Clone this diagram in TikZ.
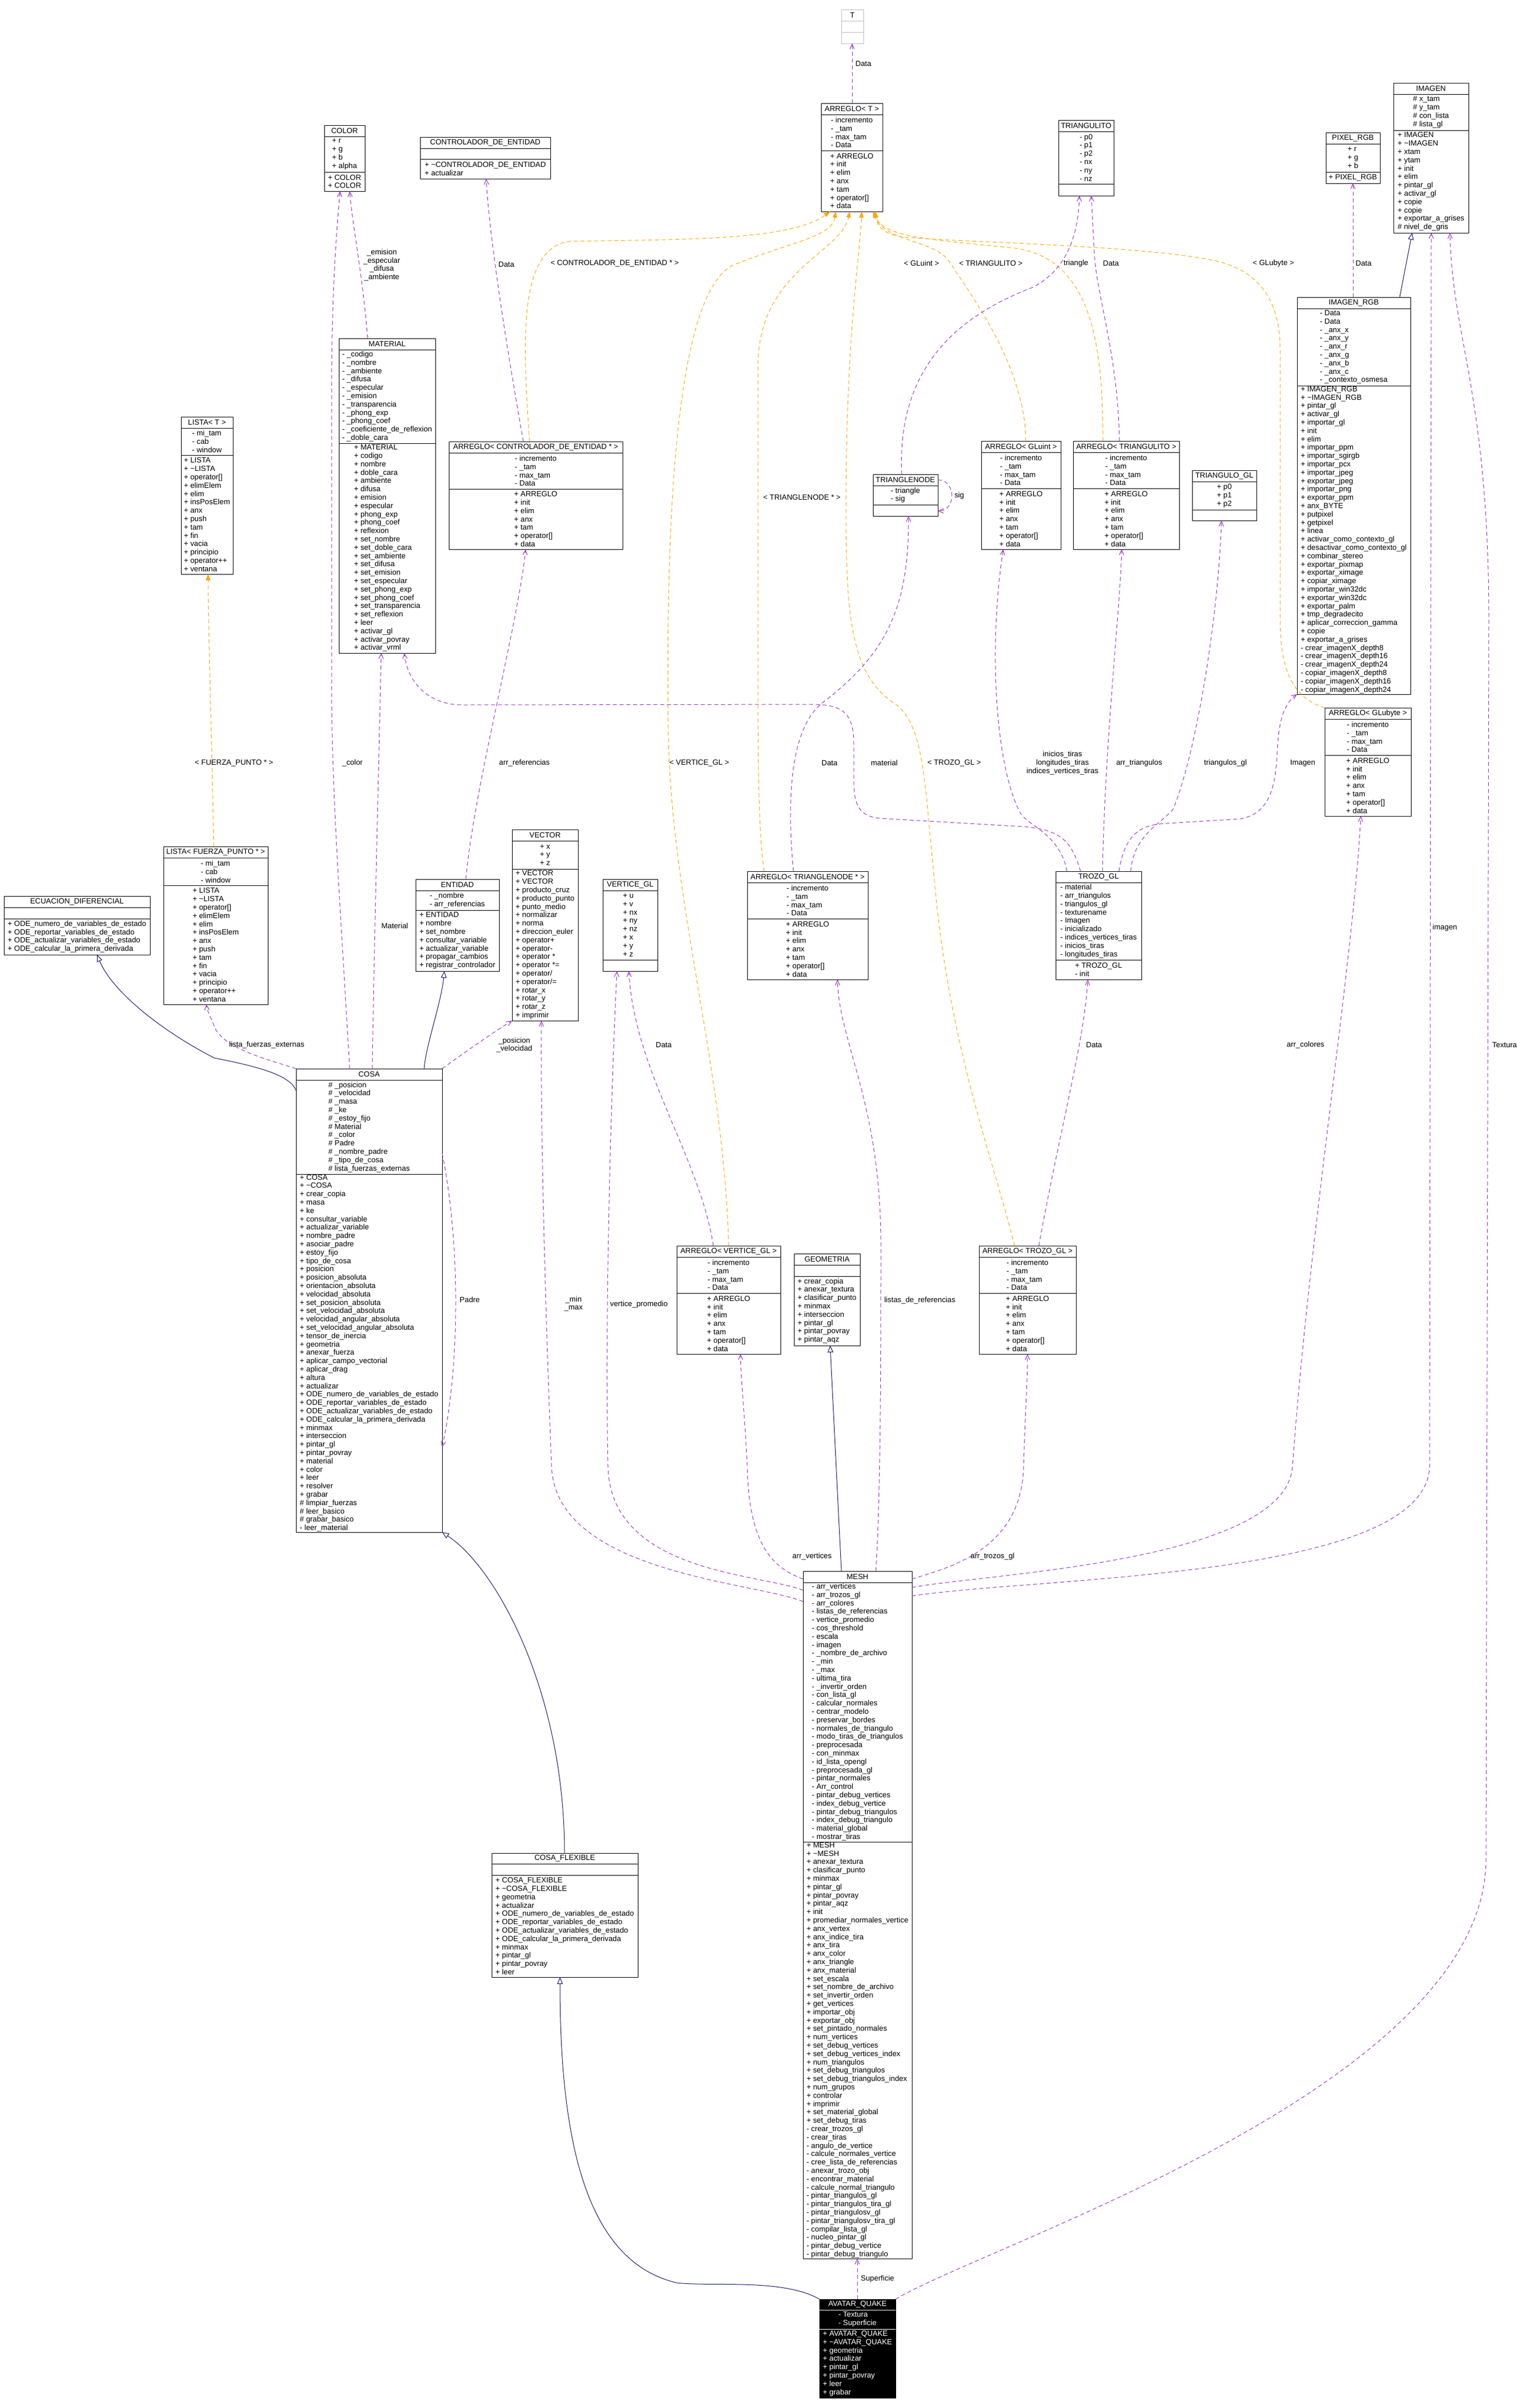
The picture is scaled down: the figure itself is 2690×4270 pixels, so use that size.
\documentclass[tikz,border=0pt]{standalone}
\usepackage{fontspec}
\setmainfont{Liberation Sans}
\usetikzlibrary{arrows.meta}
\definecolor{usec}{HTML}{9A32CD}
\definecolor{inhc}{HTML}{191970}
\definecolor{tmplc}{HTML}{FFA500}
\definecolor{tgray}{HTML}{BFBFBF}
\newcommand\fz{\fontsize{13.33}{14.8}\selectfont}
\newcommand\tld{\textasciitilde}
\newcommand\umlclass[9]{%
  \pgfmathsetmacro\ucx{(#2+#4)/2}%
  \pgfmathsetmacro\ucy{(#3+#5)/2}%
  \pgfmathsetmacro\ucw{#4-#2}%
  \pgfmathsetmacro\uch{#5-#3}%
  \pgfmathsetmacro\uty{(#3+#6)/2}%
  \pgfmathsetmacro\uay{(#6+#7)/2}%
  \pgfmathsetmacro\umy{(#7+#5)/2}%
  \def\uname{#1}%
  \tikzset{curtxt/.style={txt#9}}%
  \node[box#9,minimum width=\ucw pt,minimum height=\uch pt] (#1) at (\ucx,\ucy) {};%
  \node[txt#9,align=center] (#1-title) at (\ucx,\uty) {#8};%
  \draw[div#9] (#2,#6) -- (#4,#6) (#2,#7) -- (#4,#7);%
}
\newcommand\umlA[1]{\node[curtxt] (\uname-attr) at (\ucx,\uay) {#1};}
\newcommand\umlM[1]{\node[curtxt] (\uname-meth) at (\ucx,\umy) {#1};}
\begin{document}
\catcode`\_=12
\newcommand\arrA{- incremento\\- _tam\\- max_tam\\- Data}
\newcommand\arrM{+ ARREGLO\\+ init\\+ elim\\+ anx\\+ tam\\+ operator[]\\+ data}
\newcommand\listA{- mi_tam\\- cab\\- window}
\newcommand\listM{+ LISTA\\+ \tld LISTA\\+ operator[]\\+ elimElem\\+ elim\\+ insPosElem\\+ anx\\+ push\\+ tam\\+ fin\\+ vacia\\+ principio\\+ operator++\\+ ventana}
\begin{tikzpicture}[x=1pt,y=-1pt,
  box/.style={rectangle,draw=black,fill=white,line width=1pt,inner sep=0pt,outer sep=0pt},
  boxn/.style={box}, boxg/.style={box,draw=tgray}, boxd/.style={box,fill=black},
  txt/.style={font=\fz,inner sep=0pt,align=left},
  txtn/.style={txt}, txtg/.style={txt}, txtd/.style={txt,text=white},
  divn/.style={line width=1pt,draw=black}, divg/.style={line width=1pt,draw=tgray}, divd/.style={line width=1pt,draw=white},
  use/.style={draw=usec,line width=1pt,dash pattern=on 7pt off 5pt,-{Straight Barb[length=9pt,width=8pt]}},
  tmpl/.style={draw=tmplc,line width=1pt,dash pattern=on 7pt off 5pt,-{Triangle[length=11pt,width=8pt]}},
  inh/.style={draw=inhc,line width=1pt,-{Triangle[open,length=12pt,width=10pt,fill=white]}},
  lbl/.style={font=\fz,inner sep=0pt,align=center}]
\fill[white] (0,0) rectangle (2690,4270);
\useasboundingbox (0,0) rectangle (2690,4270);

% ---------------- classes ----------------
\umlclass{T}{1492}{17}{1531}{77}{37}{57}{T}{g}
\umlclass{ART}{1456}{183}{1565}{375}{203}{267}{ARREGLO< T >}{n}
\umlA{\arrA}\umlM{\arrM}
\umlclass{TRI}{1877}{213}{1975}{347}{233}{326}{TRIANGULITO}{n}
\umlA{- p0\\- p1\\- p2\\- nx\\- ny\\- nz}
\umlclass{PIX}{2351}{235}{2447}{325}{255}{305}{PIXEL_RGB}{n}
\umlA{+ r\\+ g\\+ b}\umlM{+ PIXEL_RGB}
\umlclass{IMG}{2471}{147}{2604}{413}{167}{231}{IMAGEN}{n}
\umlA{\# x_tam\\\# y_tam\\\# con_lista\\\# lista_gl}
\umlM{+ IMAGEN\\+ \tld IMAGEN\\+ xtam\\+ ytam\\+ init\\+ elim\\+ pintar_gl\\+ activar_gl\\+ copie\\+ copie\\+ exportar_a_grises\\\# nivel_de_gris}
\umlclass{COL}{575}{222}{647}{339}{242}{305}{COLOR}{n}
\umlA{+ r\\+ g\\+ b\\+ alpha}\umlM{+ COLOR\\+ COLOR}
\umlclass{CTL}{745}{243}{976}{317}{263}{282}{CONTROLADOR_DE_ENTIDAD}{n}
\umlM{+ \tld CONTROLADOR_DE_ENTIDAD\\+ actualizar}
\umlclass{MAT}{601}{600}{772}{1158}{620}{786}{MATERIAL}{n}
\umlA{- _codigo\\- _nombre\\- _ambiente\\- _difusa\\- _especular\\- _emision\\- _transparencia\\- _phong_exp\\- _phong_coef\\- _coeficiente_de_reflexion\\- _doble_cara}
\umlM{+ MATERIAL\\+ codigo\\+ nombre\\+ doble_cara\\+ ambiente\\+ difusa\\+ emision\\+ especular\\+ phong_exp\\+ phong_coef\\+ reflexion\\+ set_nombre\\+ set_doble_cara\\+ set_ambiente\\+ set_difusa\\+ set_emision\\+ set_especular\\+ set_phong_exp\\+ set_phong_coef\\+ set_transparencia\\+ set_reflexion\\+ leer\\+ activar_gl\\+ activar_povray\\+ activar_vrml}
\umlclass{ARC}{796}{783}{1104}{974}{803}{867}{ARREGLO< CONTROLADOR_DE_ENTIDAD * >}{n}
\umlA{\arrA}\umlM{\arrM}
\umlclass{LT}{321}{739}{413}{1018}{759}{807}{LISTA< T >}{n}
\umlA{\listA}\umlM{\listM}
\umlclass{IRGB}{2300}{527}{2501}{1231}{547}{684}{IMAGEN_RGB}{n}
\umlA{- Data\\- Data\\- _anx_x\\- _anx_y\\- _anx_r\\- _anx_g\\- _anx_b\\- _anx_c\\- _contexto_osmesa}
\umlM{+ IMAGEN_RGB\\+ \tld IMAGEN_RGB\\+ pintar_gl\\+ activar_gl\\+ importar_gl\\+ init\\+ elim\\+ importar_ppm\\+ importar_sgirgb\\+ importar_pcx\\+ importar_jpeg\\+ exportar_jpeg\\+ importar_png\\+ exportar_ppm\\+ anx_BYTE\\+ putpixel\\+ getpixel\\+ linea\\+ activar_como_contexto_gl\\+ desactivar_como_contexto_gl\\+ combinar_stereo\\+ exportar_pixmap\\+ exportar_ximage\\+ copiar_ximage\\+ importar_win32dc\\+ exportar_win32dc\\+ exportar_palm\\+ tmp_degradecito\\+ aplicar_correccion_gamma\\+ copie\\+ exportar_a_grises\\- crear_imagenX_depth8\\- crear_imagenX_depth16\\- crear_imagenX_depth24\\- copiar_imagenX_depth8\\- copiar_imagenX_depth16\\- copiar_imagenX_depth24}
\umlclass{TN}{1548}{841}{1663}{915}{861}{895}{TRIANGLENODE}{n}
\umlA{- triangle\\- sig}
\umlclass{ARGU}{1740}{782}{1881}{974}{802}{866}{ARREGLO< GLuint >}{n}
\umlA{\arrA}\umlM{\arrM}
\umlclass{ARTRI}{1903}{782}{2091}{974}{802}{866}{ARREGLO< TRIANGULITO >}{n}
\umlA{\arrA}\umlM{\arrM}
\umlclass{TGL}{2114}{834}{2228}{923}{854}{904}{TRIANGULO_GL}{n}
\umlA{+ p0\\+ p1\\+ p2}
\umlclass{ECU}{7}{1589}{266}{1693}{1609}{1629}{ECUACION_DIFERENCIAL}{n}
\umlM{+ ODE_numero_de_variables_de_estado\\+ ODE_reportar_variables_de_estado\\+ ODE_actualizar_variables_de_estado\\+ ODE_calcular_la_primera_derivada}
\umlclass{LF}{290}{1501}{475}{1781}{1521}{1570}{LISTA< FUERZA_PUNTO * >}{n}
\umlA{\listA}\umlM{\listM}
\umlclass{ENT}{737}{1559}{885}{1722}{1579}{1614}{ENTIDAD}{n}
\umlA{- _nombre\\- arr_referencias}
\umlM{+ ENTIDAD\\+ nombre\\+ set_nombre\\+ consultar_variable\\+ actualizar_variable\\+ propagar_cambios\\+ registrar_controlador}
\umlclass{VEC}{908}{1471}{1025}{1810}{1491}{1541}{VECTOR}{n}
\umlA{+ x\\+ y\\+ z}
\umlM{+ VECTOR\\+ VECTOR\\+ producto_cruz\\+ producto_punto\\+ punto_medio\\+ normalizar\\+ norma\\+ direccion_euler\\+ operator+\\+ operator-\\+ operator *\\+ operator *=\\+ operator/\\+ operator/=\\+ rotar_x\\+ rotar_y\\+ rotar_z\\+ imprimir}
\umlclass{VGL}{1069}{1559}{1166}{1722}{1579}{1702}{VERTICE_GL}{n}
\umlA{+ u\\+ v\\+ nx\\+ ny\\+ nz\\+ x\\+ y\\+ z}
\umlclass{COSA}{525}{1895}{784}{2717}{1915}{2082}{COSA}{n}
\umlA{\# _posicion\\\# _velocidad\\\# _masa\\\# _ke\\\# _estoy_fijo\\\# Material\\\# _color\\\# Padre\\\# _nombre_padre\\\# _tipo_de_cosa\\\# lista_fuerzas_externas}
\umlM{+ COSA\\+ \tld COSA\\+ crear_copia\\+ masa\\+ ke\\+ consultar_variable\\+ actualizar_variable\\+ nombre_padre\\+ asociar_padre\\+ estoy_fijo\\+ tipo_de_cosa\\+ posicion\\+ posicion_absoluta\\+ orientacion_absoluta\\+ velocidad_absoluta\\+ set_posicion_absoluta\\+ set_velocidad_absoluta\\+ velocidad_angular_absoluta\\+ set_velocidad_angular_absoluta\\+ tensor_de_inercia\\+ geometria\\+ anexar_fuerza\\+ aplicar_campo_vectorial\\+ aplicar_drag\\+ altura\\+ actualizar\\+ ODE_numero_de_variables_de_estado\\+ ODE_reportar_variables_de_estado\\+ ODE_actualizar_variables_de_estado\\+ ODE_calcular_la_primera_derivada\\+ minmax\\+ interseccion\\+ pintar_gl\\+ pintar_povray\\+ material\\+ color\\+ leer\\+ resolver\\+ grabar\\\# limpiar_fuerzas\\\# leer_basico\\\# grabar_basico\\- leer_material}
\umlclass{ARTN}{1325}{1545}{1539}{1737}{1565}{1629}{ARREGLO< TRIANGLENODE * >}{n}
\umlA{\arrA}\umlM{\arrM}
\umlclass{TROZO}{1872}{1545}{2024}{1737}{1565}{1702}{TROZO_GL}{n}
\umlA{- material\\- arr_triangulos\\- triangulos_gl\\- texturename\\- Imagen\\- inicializado\\- indices_vertices_tiras\\- inicios_tiras\\- longitudes_tiras}
\umlM{+ TROZO_GL\\- init}
\umlclass{ARGB}{2349}{1255}{2502}{1447}{1275}{1339}{ARREGLO< GLubyte >}{n}
\umlA{\arrA}\umlM{\arrM}
\umlclass{ARV}{1200}{2209}{1384}{2401}{2229}{2293}{ARREGLO< VERTICE_GL >}{n}
\umlA{\arrA}\umlM{\arrM}
\umlclass{GEO}{1408}{2223}{1525}{2386}{2243}{2263}{GEOMETRIA}{n}
\umlM{+ crear_copia\\+ anexar_textura\\+ clasificar_punto\\+ minmax\\+ interseccion\\+ pintar_gl\\+ pintar_povray\\+ pintar_aqz}
\umlclass{ARTZ}{1736}{2209}{1908}{2401}{2229}{2293}{ARREGLO< TROZO_GL >}{n}
\umlA{\arrA}\umlM{\arrM}
\umlclass{MESH}{1424}{2786}{1617}{4005}{2806}{3266}{MESH}{n}
\umlA{- arr_vertices\\- arr_trozos_gl\\- arr_colores\\- listas_de_referencias\\- vertice_promedio\\- cos_threshold\\- escala\\- imagen\\- _nombre_de_archivo\\- _min\\- _max\\- ultima_tira\\- _invertir_orden\\- con_lista_gl\\- calcular_normales\\- centrar_modelo\\- preservar_bordes\\- normales_de_triangulo\\- modo_tiras_de_triangulos\\- preprocesada\\- con_minmax\\- id_lista_opengl\\- preprocesada_gl\\- pintar_normales\\- Arr_control\\- pintar_debug_vertices\\- index_debug_vertice\\- pintar_debug_triangulos\\- index_debug_triangulo\\- material_global\\- mostrar_tiras}
\umlM{+ MESH\\+ \tld MESH\\+ anexar_textura\\+ clasificar_punto\\+ minmax\\+ pintar_gl\\+ pintar_povray\\+ pintar_aqz\\+ init\\+ promediar_normales_vertice\\+ anx_vertex\\+ anx_indice_tira\\+ anx_tira\\+ anx_color\\+ anx_triangle\\+ anx_material\\+ set_escala\\+ set_nombre_de_archivo\\+ set_invertir_orden\\+ get_vertices\\+ importar_obj\\+ exportar_obj\\+ set_pintado_normales\\+ num_vertices\\+ set_debug_vertices\\+ set_debug_vertices_index\\+ num_triangulos\\+ set_debug_triangulos\\+ set_debug_triangulos_index\\+ num_grupos\\+ controlar\\+ imprimir\\+ set_material_global\\+ set_debug_tiras\\- crear_trozos_gl\\- crear_tiras\\- angulo_de_vertice\\- calcule_normales_vertice\\- cree_lista_de_referencias\\- anexar_trozo_obj\\- encontrar_material\\- calcule_normal_triangulo\\- pintar_triangulos_gl\\- pintar_triangulos_tira_gl\\- pintar_triangulosv_gl\\- pintar_triangulosv_tira_gl\\- compilar_lista_gl\\- nucleo_pintar_gl\\- pintar_debug_vertice\\- pintar_debug_triangulo}
\umlclass{CF}{872}{3286}{1131}{3506}{3305}{3325}{COSA_FLEXIBLE}{n}
\umlM{+ COSA_FLEXIBLE\\+ \tld COSA_FLEXIBLE\\+ geometria\\+ actualizar\\+ ODE_numero_de_variables_de_estado\\+ ODE_reportar_variables_de_estado\\+ ODE_actualizar_variables_de_estado\\+ ODE_calcular_la_primera_derivada\\+ minmax\\+ pintar_gl\\+ pintar_povray\\+ leer}
\umlclass{AQ}{1453}{4077}{1588}{4252}{4096}{4130}{AVATAR_QUAKE}{d}
\umlA{- Textura\\- Superficie}
\umlM{+ AVATAR_QUAKE\\+ \tld AVATAR_QUAKE\\+ geometria\\+ actualizar\\+ pintar_gl\\+ pintar_povray\\+ leer\\+ grabar}

% ---------------- template instances (orange) ----------------
\draw[tmpl] (ARC.north -| 939,0) .. controls (928,620) and (915,440) .. (1010,428) .. controls (1200,424) and (1400,428) .. (ART.south -| 1472,0);
\draw[tmpl] (ARV.north -| 1292,0) .. controls (1285,1900) and (1190,1600) .. (1185,1300) .. controls (1180,900) and (1200,520) .. (1300,470) .. controls (1400,430) and (1475,420) .. (ART.south -| 1482,0);
\draw[tmpl] (ARTN.north -| 1355,0) .. controls (1345,1480) and (1344,1350) .. (1344,1200) -- (1344,650) .. controls (1344,480) and (1490,450) .. (ART.south -| 1507,0);
\draw[tmpl] (ARTZ.north -| 1799,0) .. controls (1760,2050) and (1680,1850) .. (1655,1540) .. controls (1640,1400) and (1640,1290) .. (1590,1250) .. controls (1510,1200) and (1500,1100) .. (1500,900) .. controls (1500,600) and (1525,450) .. (ART.south -| 1528,0);
\draw[tmpl] (ARGU.north -| 1819,0) .. controls (1818,650) and (1720,520) .. (1684,465) .. controls (1660,425) and (1570,430) .. (ART.south -| 1548,0);
\draw[tmpl] (ARTRI.north -| 1956,0) .. controls (1955,620) and (1940,460) .. (1800,440) .. controls (1650,425) and (1565,420) .. (ART.south -| 1550,0);
\draw[tmpl] (ARGB.north west) .. controls (2300,1240) and (2270,1200) .. (2270,1100) -- (2270,620) .. controls (2270,520) and (2220,480) .. (2165,465) .. controls (2050,435) and (1700,430) .. (1600,420) .. controls (1565,415) and (1555,400) .. (ART.south -| 1552,0);
\draw[tmpl] (LF.north -| 379,0) .. controls (375,1300) and (369,1100) .. (LT.south -| 369,0);

% ---------------- usage (purple) ----------------
\draw[use] (ART.north -| 1511,0) -- (T.south -| 1511,0);
\draw[use] (MAT.north -| 652,0) .. controls (642,480) and (625,400) .. (COL.south -| 620,0);
\draw[use] (COSA.north -| 620,0) .. controls (600,1550) and (588,1400) .. (588,1200) -- (588,700) .. controls (588,500) and (598,400) .. (COL.south -| 603,0);
\draw[use] (COSA.north -| 660,0) .. controls (665,1600) and (673,1300) .. (MAT.south -| 676,0);
\draw[use] (ARC.north -| 928,0) .. controls (910,680) and (870,450) .. (CTL.south -| 862,0);
\draw[use] (ENT.north -| 826,0) .. controls (840,1400) and (920,1100) .. (ARC.south -| 932,0);
\draw[use] (TN.north -| 1599,0) .. controls (1590,650) and (1700,560) .. (1830,510) .. controls (1890,480) and (1912,420) .. (TRI.south -| 1914,0);
\draw[use] (ARTRI.north -| 1985,0) .. controls (1982,620) and (1942,520) .. (1940,440) -- (TRI.south -| 1935,0);
\draw[use] (TN.east |- 0,851) .. controls (1696,851) and (1696,906) .. (TN.east |- 0,906);
\draw[use] (ARTN.north -| 1407,0) .. controls (1395,1420) and (1400,1290) .. (1460,1245) .. controls (1570,1160) and (1612,1080) .. (TN.south -| 1611,0);
\draw[use] (TROZO.north -| 1916,0) .. controls (1900,1490) and (1880,1468) .. (1800,1465) -- (1560,1451) .. controls (1518,1447) and (1514,1420) .. (1514,1380) -- (1514,1320) .. controls (1514,1265) and (1495,1249) .. (1440,1249) -- (820,1250) .. controls (760,1250) and (722,1210) .. (MAT.south -| 717,0);
\draw[use] (TROZO.north -| 1892,0) .. controls (1880,1480) and (1825,1465) .. (1810,1443) .. controls (1765,1360) and (1752,1150) .. (ARGU.south -| 1779,0);
\draw[use] (TROZO.north -| 1955,0) .. controls (1960,1300) and (1985,1100) .. (ARTRI.south -| 1989,0);
\draw[use] (TROZO.north -| 2005,0) .. controls (2010,1480) and (2060,1460) .. (2080,1435) .. controls (2120,1340) and (2160,1100) .. (TGL.south -| 2166,0);
\draw[use] (TROZO.north -| 1984,0) .. controls (1995,1480) and (2020,1462) .. (2070,1460) -- (2200,1452) .. controls (2250,1442) and (2262,1400) .. (2265,1330) .. controls (2268,1270) and (2280,1245) .. (IRGB.south west);
\draw[use] (IRGB.north -| 2399,0) -- (PIX.south -| 2399,0);
\draw[use] (ARTZ.north -| 1842,0) .. controls (1880,2000) and (1922,1850) .. (TROZO.south -| 1929,0);
\draw[use] (ARV.north -| 1265,0) .. controls (1240,2050) and (1125,1900) .. (VGL.south -| 1115,0);
\draw[use] (MESH.west |- 0,2820) .. controls (1350,2790) and (1082,2790) .. (1078,2600) .. controls (1072,2300) and (1085,1900) .. (VGL.south -| 1094,0);
\draw[use] (MESH.west |- 0,2840) .. controls (1340,2805) and (985,2790) .. (978,2600) .. controls (968,2350) and (958,2000) .. (VEC.south -| 960,0);
\draw[use] (MESH.west |- 0,2800) .. controls (1370,2780) and (1328,2740) .. (1325,2600) .. controls (1320,2500) and (1314,2450) .. (ARV.south -| 1313,0);
\draw[use] (MESH.north -| 1553,0) .. controls (1562,2650) and (1562,2400) .. (1562,2200) .. controls (1560,1950) and (1488,1850) .. (ARTN.south -| 1485,0);
\draw[use] (MESH.east |- 0,2800) .. controls (1680,2780) and (1812,2750) .. (1815,2600) .. controls (1818,2500) and (1822,2450) .. (ARTZ.south -| 1822,0);
\draw[use] (MESH.east |- 0,2815) .. controls (1750,2790) and (2280,2770) .. (2292,2600) .. controls (2320,2200) and (2400,1700) .. (ARGB.south -| 2413,0);
\draw[use] (MESH.east |- 0,2830) .. controls (1850,2795) and (2530,2800) .. (2535,2600) -- (IMG.south -| 2538,0);
\draw[use] (AQ.north east) .. controls (1750,3980) and (2630,3700) .. (2635,3300) -- (2640,1100) .. controls (2640,700) and (2575,600) .. (IMG.south -| 2571,0);
\draw[use] (AQ.north -| 1520,0) -- (MESH.south -| 1520,0);
\draw[use] (COSA.north west) .. controls (480,1880) and (395,1860) .. (380,1820) .. controls (372,1800) and (367,1792) .. (LF.south -| 366,0);
\draw[use] (COSA.north east) .. controls (805,1880) and (860,1840) .. (VEC.south west);
\draw[use] (COSA.east |- 0,2045) .. controls (816,2200) and (816,2420) .. (COSA.east |- 0,2566);

% ---------------- inheritance (blue) ----------------
\draw[inh] (IRGB.north -| 2482,0) -- (IMG.south -| 2504,0);
\draw[inh] (MESH.north -| 1492,0) -- (GEO.south -| 1472,0);
\draw[inh] (COSA.west |- 0,1934) .. controls (515,1905) and (450,1890) .. (380,1876) .. controls (290,1830) and (200,1760) .. (ECU.south -| 172,0);
\draw[inh] (COSA.north -| 752,0) .. controls (756,1850) and (782,1780) .. (ENT.south -| 788,0);
\draw[inh] (CF.north -| 1001,0) .. controls (1001,3000) and (880,2780) .. (COSA.south east);
\draw[inh] (AQ.north west) .. controls (1390,4040) and (1260,4055) .. (1200,4048) .. controls (1040,4010) and (993,3800) .. (CF.south -| 993,0);

% ---------------- labels ----------------
\node[lbl] (l1) at (1531,113) {Data};
\node[lbl] (l2) at (677,470) {_emision\\_especular\\_difusa\\_ambiente};
\node[lbl] (l3) at (898,469) {Data};
\node[lbl] (l4) at (1090,467) {< CONTROLADOR_DE_ENTIDAD * >};
\node[lbl] (l5) at (1634,467) {< GLuint >};
\node[lbl] (l6) at (1757,467) {< TRIANGULITO >};
\node[lbl] (l7) at (1908,467) {triangle};
\node[lbl] (l8) at (1970,467) {Data};
\node[lbl] (l9) at (2258,467) {< GLubyte >};
\node[lbl] (l10) at (2418,467) {Data};
\node[lbl] (l11) at (1422,882) {< TRIANGLENODE * >};
\node[lbl] (l12) at (1701,879) {sig};
\node[lbl] (l13) at (415,1353) {< FUERZA_PUNTO * >};
\node[lbl] (l14) at (625,1353) {_color};
\node[lbl] (l15) at (930,1353) {arr_referencias};
\node[lbl] (l16) at (1240,1353) {< VERTICE_GL >};
\node[lbl] (l17) at (1471,1353) {Data};
\node[lbl] (l18) at (1568,1353) {material};
\node[lbl] (l19) at (1692,1353) {< TROZO_GL >};
\node[lbl] (l20) at (1884,1353) {inicios_tiras\\longitudes_tiras\\indices_vertices_tiras};
\node[lbl] (l21) at (2020,1353) {arr_triangulos};
\node[lbl] (l22) at (2173,1353) {triangulos_gl};
\node[lbl] (l23) at (2310,1353) {Imagen};
\node[lbl] (l24) at (700,1642) {Material};
\node[lbl] (l25) at (2562,1645) {imagen};
\node[lbl] (l26) at (473,1853) {lista_fuerzas_externas};
\node[lbl] (l27) at (912,1853) {_posicion\\_velocidad};
\node[lbl] (l28) at (1177,1853) {Data};
\node[lbl] (l29) at (1940,1853) {Data};
\node[lbl] (l30) at (2315,1853) {arr_colores};
\node[lbl] (l31) at (2668,1853) {Textura};
\node[lbl] (l32) at (833,2305) {Padre};
\node[lbl] (l33) at (1017,2312) {_min\\_max};
\node[lbl] (l34) at (1133,2313) {vertice_promedio};
\node[lbl] (l35) at (1631,2306) {listas_de_referencias};
\node[lbl] (l36) at (1440,2760) {arr_vertices};
\node[lbl] (l37) at (1760,2760) {arr_trozos_gl};
\node[lbl] (l38) at (1556,4041) {Superficie};
\end{tikzpicture}
\end{document}
